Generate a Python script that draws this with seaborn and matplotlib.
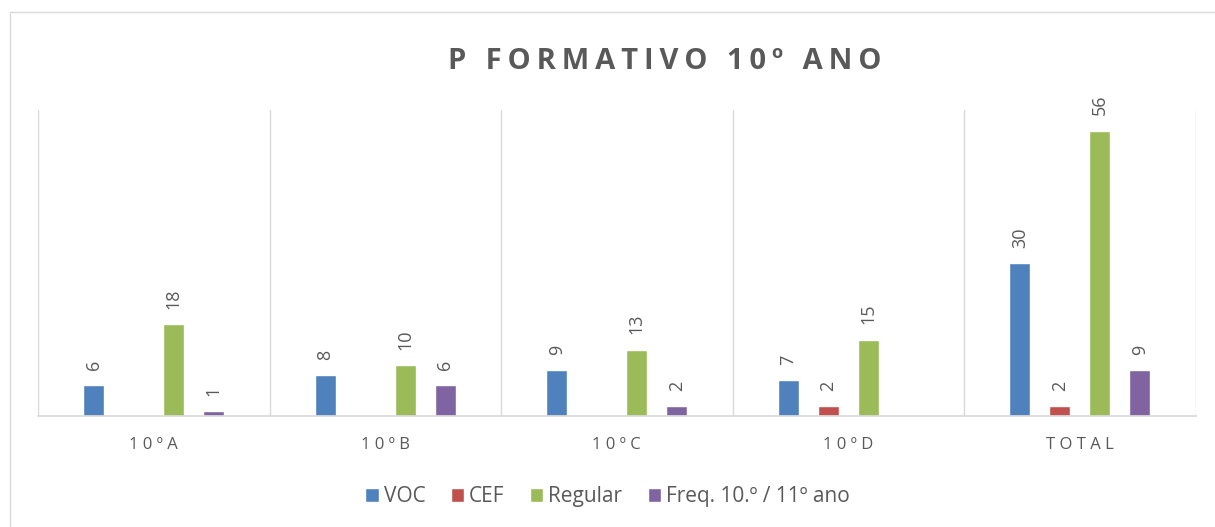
import matplotlib.pyplot as plt
import numpy as np
import pandas as pd
import seaborn as sns
from matplotlib.patches import Rectangle

turmas = ["10ºA", "10ºB", "10ºC", "10ºD", "TOTAL"]
tick_labels = ["1 0 º A", "1 0 º B", "1 0 º C", "1 0 º D", "T O T A L"]
series = ["VOC", "CEF", "Regular", "Freq. 10.º / 11º ano"]
voc = [6, 8, 9, 7, 30]
cef = [np.nan, np.nan, np.nan, 2, 2]
regular = [18, 10, 13, 15, 56]
freq = [1, 6, 2, np.nan, 9]
colors = ["#4F81BD", "#C0504D", "#9BBB59", "#8064A2"]
title = "P FORMATIVO 10º ANO"

df = pd.DataFrame({"turma": turmas, series[0]: voc, series[1]: cef,
                   series[2]: regular, series[3]: freq})
df = df.melt(id_vars="turma", var_name="serie", value_name="n").dropna()

sns.set_theme(style="white")
plt.rcParams["font.family"] = ["Open Sans", "DejaVu Sans"]
grey = "#595959"

fig = plt.figure(figsize=(12.15, 5.27), dpi=100)
ax = fig.add_axes([0.0313, 0.2106, 0.9527, 0.5804])
sns.barplot(data=df, x="turma", y="n", hue="serie", order=turmas,
            hue_order=series, palette=colors, width=0.69, gap=0.47,
            saturation=1, ax=ax, legend=True)

for c in ax.containers:
    ax.bar_label(c, fmt="%g", rotation=90, padding=11, color=grey, fontsize=13)

ax.set_ylim(0, 60)
ax.set_xlim(-0.5, len(turmas) - 0.5)
ax.set_yticks([])
ax.set_xticks(range(len(turmas)))
ax.set_xticklabels(tick_labels, color=grey, fontsize=12)
ax.tick_params(axis="x", length=0, pad=15)
ax.set_xticks(np.arange(-0.5, len(turmas)), minor=True)
ax.grid(axis="x", which="minor", color="#D9D9D9", linewidth=1)
ax.set_xlabel("")
ax.set_ylabel("")
for s in ["top", "right", "left"]:
    ax.spines[s].set_visible(False)
ax.spines["bottom"].set_color("#D9D9D9")

ax.legend(loc="center", bbox_to_anchor=(0.5, 0.057),
          bbox_transform=fig.transFigure, ncol=4, frameon=False,
          fontsize=15, handlelength=0.65, handleheight=0.65,
          handletextpad=0.25, columnspacing=1.2, labelcolor=grey)

# Excel-style letter spacing for the title
spaced = "\u2009".join(title)
fig.text(0.547, 0.884, spaced, ha="center", va="center",
         fontsize=21, fontweight="bold", color=grey)
fig.patches.append(Rectangle((10 / 1215, -0.1), 1.2, 1 - 12 / 527 + 0.1,
                             transform=fig.transFigure, fill=False,
                             edgecolor="#D9D9D9", linewidth=1))

fig.savefig("out.png")
